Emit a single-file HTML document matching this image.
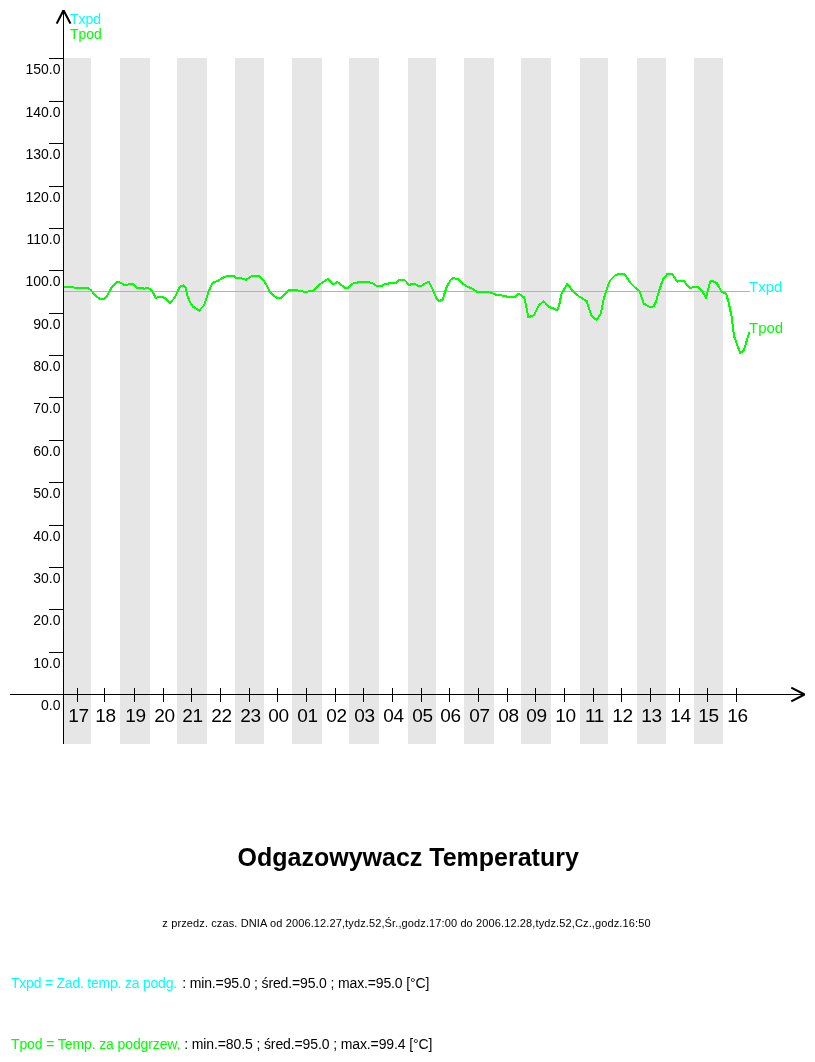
<!DOCTYPE html>
<html><head><meta charset="utf-8"><title>Odgazowywacz Temperatury</title>
<style>
html,body{margin:0;padding:0;background:#fff;}
body{width:815px;height:1062px;overflow:hidden;position:relative;font-family:"Liberation Sans",sans-serif;}
svg{position:absolute;left:0;top:0;will-change:opacity;}
text{font-family:"Liberation Sans",sans-serif;}
.yl{font-size:14px;fill:#000;text-anchor:end;}
.xl{font-size:19px;fill:#000;text-anchor:middle;letter-spacing:-0.4px;}
</style></head><body>
<svg width="815" height="1062" viewBox="0 0 815 1062">
<g shape-rendering="crispEdges">
<rect x="64" y="58" width="27" height="686" fill="#e6e6e6"/>
<rect x="120" y="58" width="30" height="686" fill="#e6e6e6"/>
<rect x="177" y="58" width="30" height="686" fill="#e6e6e6"/>
<rect x="235" y="58" width="29" height="686" fill="#e6e6e6"/>
<rect x="292" y="58" width="30" height="686" fill="#e6e6e6"/>
<rect x="349" y="58" width="30" height="686" fill="#e6e6e6"/>
<rect x="408" y="58" width="28" height="686" fill="#e6e6e6"/>
<rect x="464" y="58" width="30" height="686" fill="#e6e6e6"/>
<rect x="521" y="58" width="30" height="686" fill="#e6e6e6"/>
<rect x="580" y="58" width="28" height="686" fill="#e6e6e6"/>
<rect x="637" y="58" width="29" height="686" fill="#e6e6e6"/>
<rect x="694" y="58" width="29" height="686" fill="#e6e6e6"/>
<rect x="63" y="10" width="1" height="734" fill="#000"/>
<rect x="10" y="694" width="795" height="1" fill="#000"/>
<rect x="49" y="652" width="14" height="1" fill="#000"/>
<rect x="49" y="609" width="14" height="1" fill="#000"/>
<rect x="49" y="567" width="14" height="1" fill="#000"/>
<rect x="49" y="525" width="14" height="1" fill="#000"/>
<rect x="49" y="482" width="14" height="1" fill="#000"/>
<rect x="49" y="440" width="14" height="1" fill="#000"/>
<rect x="49" y="397" width="14" height="1" fill="#000"/>
<rect x="49" y="355" width="14" height="1" fill="#000"/>
<rect x="49" y="313" width="14" height="1" fill="#000"/>
<rect x="49" y="270" width="14" height="1" fill="#000"/>
<rect x="49" y="228" width="14" height="1" fill="#000"/>
<rect x="49" y="186" width="14" height="1" fill="#000"/>
<rect x="49" y="143" width="14" height="1" fill="#000"/>
<rect x="49" y="101" width="14" height="1" fill="#000"/>
<rect x="49" y="58" width="14" height="1" fill="#000"/>
<rect x="77" y="688" width="1" height="14" fill="#000"/>
<rect x="104" y="688" width="1" height="14" fill="#000"/>
<rect x="134" y="688" width="1" height="14" fill="#000"/>
<rect x="163" y="688" width="1" height="14" fill="#000"/>
<rect x="191" y="688" width="1" height="14" fill="#000"/>
<rect x="220" y="688" width="1" height="14" fill="#000"/>
<rect x="249" y="688" width="1" height="14" fill="#000"/>
<rect x="277" y="688" width="1" height="14" fill="#000"/>
<rect x="306" y="688" width="1" height="14" fill="#000"/>
<rect x="335" y="688" width="1" height="14" fill="#000"/>
<rect x="363" y="688" width="1" height="14" fill="#000"/>
<rect x="392" y="688" width="1" height="14" fill="#000"/>
<rect x="421" y="688" width="1" height="14" fill="#000"/>
<rect x="449" y="688" width="1" height="14" fill="#000"/>
<rect x="478" y="688" width="1" height="14" fill="#000"/>
<rect x="507" y="688" width="1" height="14" fill="#000"/>
<rect x="535" y="688" width="1" height="14" fill="#000"/>
<rect x="564" y="688" width="1" height="14" fill="#000"/>
<rect x="593" y="688" width="1" height="14" fill="#000"/>
<rect x="621" y="688" width="1" height="14" fill="#000"/>
<rect x="650" y="688" width="1" height="14" fill="#000"/>
<rect x="679" y="688" width="1" height="14" fill="#000"/>
<rect x="707" y="688" width="1" height="14" fill="#000"/>
<rect x="736" y="688" width="1" height="14" fill="#000"/>
<rect x="64" y="291" width="686" height="1" fill="#00ffff"/>
</g>
<path d="M57.2,22.7 L63,11.2 M64,11.2 L70,22.7" fill="none" stroke="#000" stroke-width="2.1" stroke-linecap="square"/>
<path d="M792.2,688.1 L803.6,694 M792.2,700.9 L803.6,695" fill="none" stroke="#000" stroke-width="2.1" stroke-linecap="square"/>
<polyline shape-rendering="crispEdges" points="64,286.7 72.3,286.7 74.7,288 88.2,288 90.7,290 96.8,296.8 100.5,299 104.2,299 107.2,295.6 111.5,287.6 116.4,282.3 119.5,282.3 124.4,284.9 127.5,284.9 129.9,283.6 132.4,283.6 137.3,288 144.7,288.6 147.7,287.9 150.8,289.4 152.5,291.9 155.9,298 158.6,296.8 161.7,296.8 164.7,298 170.2,303 175.2,296.8 180,286.4 183.7,285.2 185.6,287.6 187.4,295.6 189.9,302.3 192.9,306.6 199.1,310.6 204,305.4 207,296.8 210.1,287.6 213.2,282.3 217.5,281.1 223.6,277.4 228.5,275.7 233.4,275.7 236.5,278.2 241.4,278.4 243,278.7 246.1,279.9 252.3,275.6 259,275.6 262.7,279.6 266.4,284.5 270,292.5 276.8,297.8 281.1,297.8 289.1,289.7 295.2,289.7 298.9,290.9 305,291.9 313.6,290.9 318.5,285.2 328.3,278.7 333.1,284.5 337.4,282.1 345.3,288 347.8,288 352.7,283.6 359.4,282.1 368,282.1 372.3,283.1 376.6,285.8 382.1,285.8 385.2,283.6 395.6,283.3 399.3,279.6 404.2,279.6 409.1,284.8 414.7,283.6 418.3,286 421.4,285.8 426.1,282.7 429.2,282.1 432.3,288.8 436.6,298.7 439,301.5 442.7,299.3 446.4,287.6 450.7,279.6 453.1,278 458,279.3 462.9,283.9 467.2,286.7 472.8,288.8 477.1,291.9 487.5,291.9 491.2,292.9 496.1,294.7 500.4,295 503.4,296 507.1,296.6 514.9,296.8 518.8,293.7 524.1,297.4 526,305.4 528.4,317.4 533.9,315.2 538.8,305.4 543.7,301.1 549.3,307.2 552.9,308.1 557.2,310.3 559.1,305.4 561.5,293.7 567.4,283.9 572.6,290.7 578.7,296.2 586.7,301.1 589.1,309.1 591.6,315.8 596.5,319.9 600.8,313.4 603.7,299.2 608,285.1 610.4,280.2 615.3,275.2 619.6,273.8 624.5,274 630.1,282.6 635.6,288.1 639.3,290.6 643.6,303.5 648.5,306.5 653.4,306.5 655.8,302.2 659.5,289.4 663.2,278.9 667.5,273.8 672.4,274 677.3,281.9 679.6,280.6 683.4,280.6 689.8,287.9 693.5,287.1 698.4,287.1 702.7,291.8 706,297.9 708,290.6 710.1,281.4 712.5,280.8 716.8,283.2 721.1,291.2 726,293.7 728.5,301.6 731.5,316.3 734,336 740.1,352.9 743.8,350.7 749.3,332.3" fill="none" stroke="#00ff00" stroke-width="2" stroke-linejoin="round"/>
<g>
<text class="yl" x="60.5" y="710">0.0</text>
<text class="yl" x="60.5" y="668">10.0</text>
<text class="yl" x="60.5" y="625">20.0</text>
<text class="yl" x="60.5" y="583">30.0</text>
<text class="yl" x="60.5" y="541">40.0</text>
<text class="yl" x="60.5" y="498">50.0</text>
<text class="yl" x="60.5" y="456">60.0</text>
<text class="yl" x="60.5" y="413">70.0</text>
<text class="yl" x="60.5" y="371">80.0</text>
<text class="yl" x="60.5" y="329">90.0</text>
<text class="yl" x="60.5" y="286">100.0</text>
<text class="yl" x="60.5" y="244">110.0</text>
<text class="yl" x="60.5" y="202">120.0</text>
<text class="yl" x="60.5" y="159">130.0</text>
<text class="yl" x="60.5" y="117">140.0</text>
<text class="yl" x="60.5" y="74">150.0</text>
<text class="xl" x="78.5" y="722">17</text>
<text class="xl" x="105.5" y="722">18</text>
<text class="xl" x="135.5" y="722">19</text>
<text class="xl" x="164.5" y="722">20</text>
<text class="xl" x="192.5" y="722">21</text>
<text class="xl" x="221.5" y="722">22</text>
<text class="xl" x="250.5" y="722">23</text>
<text class="xl" x="278.5" y="722">00</text>
<text class="xl" x="307.5" y="722">01</text>
<text class="xl" x="336.5" y="722">02</text>
<text class="xl" x="364.5" y="722">03</text>
<text class="xl" x="393.5" y="722">04</text>
<text class="xl" x="422.5" y="722">05</text>
<text class="xl" x="450.5" y="722">06</text>
<text class="xl" x="479.5" y="722">07</text>
<text class="xl" x="508.5" y="722">08</text>
<text class="xl" x="536.5" y="722">09</text>
<text class="xl" x="565.5" y="722">10</text>
<text class="xl" x="594.5" y="722">11</text>
<text class="xl" x="622.5" y="722">12</text>
<text class="xl" x="651.5" y="722">13</text>
<text class="xl" x="680.5" y="722">14</text>
<text class="xl" x="708.5" y="722">15</text>
<text class="xl" x="737.5" y="722">16</text>
<text x="70" y="24" font-size="14" fill="#00ffff">Txpd</text>
<text x="70" y="39" font-size="14" fill="#00ff00">Tpod</text>
<text x="749" y="292" font-size="15" fill="#00ffff">Txpd</text>
<text x="749" y="333" font-size="15" fill="#00ff00">Tpod</text>
<text x="408.2" y="865.7" font-size="25" font-weight="bold" text-anchor="middle" fill="#000">Odgazowywacz Temperatury</text>
<text x="406.5" y="927" font-size="11" letter-spacing="0.12" text-anchor="middle" fill="#000">z przedz. czas. DNIA od 2006.12.27,tydz.52,Śr.,godz.17:00 do 2006.12.28,tydz.52,Cz.,godz.16:50</text>
<text x="11" y="988" font-size="14" letter-spacing="-0.14" fill="#000"><tspan fill="#00ffff" letter-spacing="-0.22">Txpd = Zad. temp. za podg.</tspan><tspan dx="1.6"> : min.=95.0 ; śred.=95.0 ; max.=95.0 [°C]</tspan></text>
<text x="11" y="1049" font-size="14" letter-spacing="-0.11" fill="#000"><tspan fill="#00ff00">Tpod = Temp. za podgrzew.</tspan> : min.=80.5 ; śred.=95.0 ; max.=99.4 [°C]</text>
</g>
</svg></body></html>
